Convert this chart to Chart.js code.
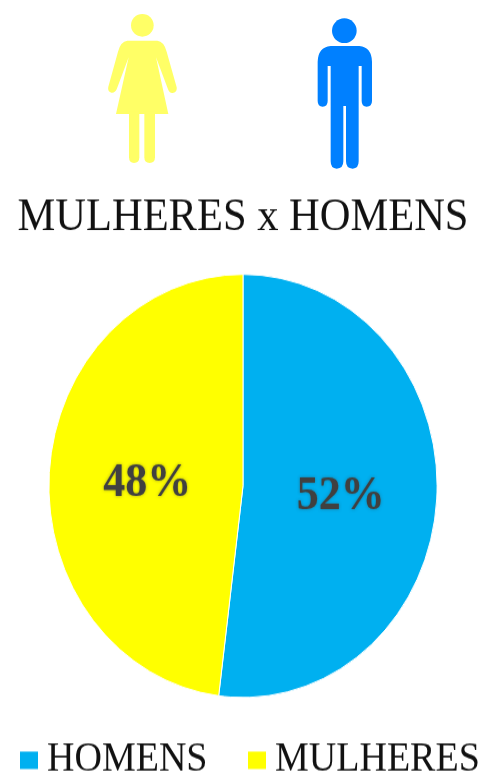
<!DOCTYPE html>
<html>
<head>
<meta charset="utf-8">
<script src="https://cdn.jsdelivr.net/npm/chart.js@4"></script>
<style>
  html, body { margin: 0; padding: 0; background: #fff; }
  body { position: relative; width: 481px; height: 776px; overflow: hidden; }
  /* the whole picture is stretched ~9% vertically, text and pie alike */
  #chart { position: absolute; left: 0; top: 0; transform-origin: 0 0; transform: scaleY(1.09); filter: blur(0.6px); }
  #icons { position: absolute; left: 90px; top: 0; filter: blur(0.5px); }
</style>
</head>
<body>
<canvas id="chart" width="481" height="712"></canvas>
<svg id="icons" width="300" height="180" viewBox="0 0 900 540">
  <g fill="#ffff66">
    <circle cx="157" cy="76" r="34"/>
    <path d="M112 122 H202 Q222 124 230 155 L260 262 Q262 276 248 279 Q238 280 234 268 L198 172 L235 342 H78 L116 172 L80 268 Q74 280 64 278 Q52 274 55 260 L84 155 Q92 124 112 122 Z"/>
    <path d="M117 335 H148 V472 Q148 489 132 489 Q117 489 117 472 Z"/>
    <path d="M163 335 H195 V472 Q195 489 179 489 Q163 489 163 472 Z"/>
  </g>
  <g fill="#0080ff">
    <circle cx="763" cy="92" r="37"/>
    <path d="M722 138 H808 Q845 142 846 185 V303 Q846 320 830 320 Q815 320 815 303 V198 H806 V484 Q806 506 788 506 Q768 506 768 484 V318 H760 V484 Q760 506 740 506 Q722 506 722 484 V198 H713 V303 Q713 320 698 320 Q683 320 683 303 V185 Q684 142 722 138 Z"/>
  </g>
</svg>
<script>
const categories = ["HOMENS", "MULHERES"];
const values = [52, 48];
const sliceColors = ["#00b0f0", "#ffff00"];
const titleText = "MULHERES x HOMENS";

const serif = "'Liberation Serif', 'Times New Roman', serif";

// percent labels sit at the middle of each arc
const sliceLabels = {
    id: "sliceLabels",
    afterDatasetsDraw(chart) {
        const ctx = chart.ctx;
        ctx.save();
        ctx.font = "bold 44px " + serif;
        ctx.textAlign = "center";
        ctx.textBaseline = "middle";
        ctx.fillStyle = "#404040";
        chart.getDatasetMeta(0).data.forEach((arc, i) => {
            const p = arc.getCenterPoint();
            ctx.shadowColor = "rgba(60,60,60,0.5)";
            ctx.shadowBlur = 3;
            ctx.fillText(values[i] + "%", p.x + 1, p.y + 4);
        });
        ctx.restore();
    },
};

// Chart.js ties the swatch gap to the font size, the reference is tighter
const tightLegend = {
    id: "tightLegend",
    afterDraw(chart) {
        const ctx = chart.ctx;
        const itemX = [20, 248];
        const y = 697.5;
        ctx.save();
        ctx.font = "38px " + serif;
        ctx.textBaseline = "middle";
        categories.forEach((name, i) => {
            ctx.fillStyle = sliceColors[i];
            ctx.fillRect(itemX[i], y - 8, 18, 16);
            ctx.fillStyle = "#111";
            ctx.fillText(name, itemX[i] + 27, y);
        });
        ctx.restore();
    },
};

new Chart(document.getElementById("chart"), {
    type: "pie",
    data: {
        labels: categories,
        datasets: [
            {
                data: values,
                backgroundColor: sliceColors,
                borderColor: "#ffffff",
                borderWidth: 1,
            },
        ],
    },
    options: {
        responsive: false,
        animation: false,
        layout: { padding: { left: 5, right: 0, top: 0, bottom: 71.6 } },
        plugins: {
            legend: { display: false },
            tooltip: { enabled: false },
            title: {
                display: true,
                text: titleText,
                color: "#111",
                font: { family: serif, size: 42.5, weight: "normal" },
                padding: { top: 174, bottom: 26.2 },
            },
        },
    },
    plugins: [sliceLabels, tightLegend],
});
</script>
</body>
</html>
